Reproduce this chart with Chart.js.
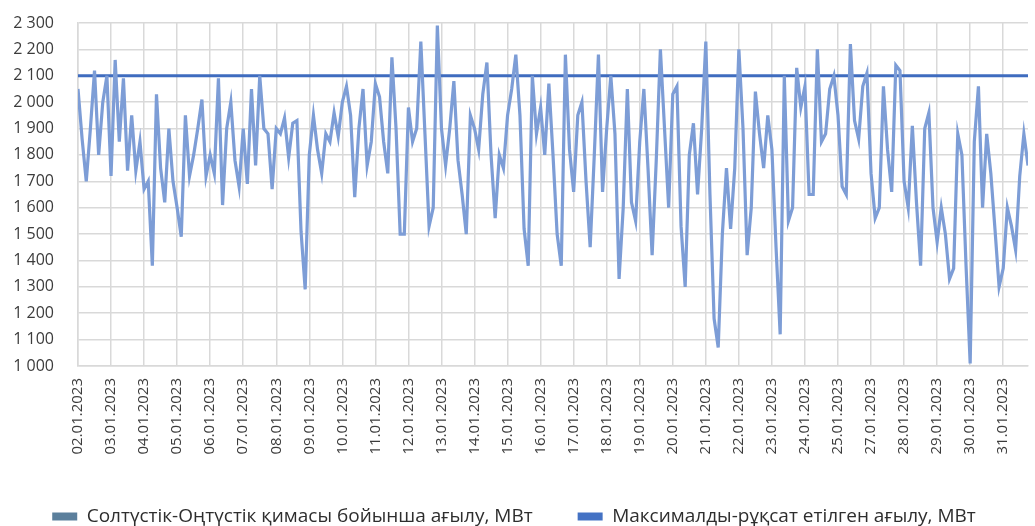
<!DOCTYPE html>
<html>
<head>
<meta charset="utf-8">
<script src="https://cdn.jsdelivr.net/npm/chart.js@4.4.0/dist/chart.umd.min.js"></script>
<style>
  html, body { margin: 0; padding: 0; background: #ffffff; }
  #wrap { width: 1035px; height: 526px; }
</style>
</head>
<body>
<div id="wrap"><canvas id="chart" width="1035" height="526"></canvas></div>
<script>
// -------------------------
// DATA
// -------------------------
const dates = [
  "02.01.2023", "03.01.2023", "04.01.2023", "05.01.2023", "06.01.2023",
  "07.01.2023", "08.01.2023", "09.01.2023", "10.01.2023", "11.01.2023",
  "12.01.2023", "13.01.2023", "14.01.2023", "15.01.2023", "16.01.2023",
  "17.01.2023", "18.01.2023", "19.01.2023", "20.01.2023", "21.01.2023",
  "22.01.2023", "23.01.2023", "24.01.2023", "25.01.2023", "27.01.2023",
  "28.01.2023", "29.01.2023", "30.01.2023", "31.01.2023"
];

// flow, MW, read every 3 hours (8 readings per labelled day)
const flow = [
  2050, 1860, 1700, 1900, 2120, 1800, 2000, 2100,
  1720, 2160, 1850, 2090, 1740, 1950, 1740, 1850,
  1670, 1700, 1380, 2030, 1750, 1620, 1900, 1700,
  1600, 1490, 1950, 1720, 1800, 1900, 2010, 1720,
  1800, 1730, 2090, 1610, 1900, 2000, 1780, 1680,
  1900, 1690, 2050, 1760, 2100, 1900, 1880, 1670,
  1900, 1880, 1940, 1790, 1920, 1930, 1510, 1290,
  1800, 1950, 1820, 1730, 1880, 1850, 1960, 1870,
  2000, 2060, 1950, 1640, 1900, 2050, 1760, 1850,
  2070, 2020, 1850, 1730, 2170, 1900, 1500, 1500,
  1980, 1850, 1900, 2230, 1880, 1530, 1600, 2290,
  1900, 1760, 1900, 2080, 1780, 1650, 1500, 1950,
  1900, 1820, 2030, 2150, 1800, 1560, 1800, 1750,
  1950, 2050, 2180, 1950, 1520, 1380, 2100, 1880,
  1980, 1800, 2070, 1800, 1500, 1380, 2180, 1820,
  1660, 1950, 2000, 1700, 1450, 1800, 2180, 1660,
  1900, 2100, 1880, 1330, 1600, 2050, 1620, 1550,
  1850, 2050, 1750, 1420, 1780, 2200, 1900, 1600,
  2030, 2060, 1530, 1300, 1800, 1920, 1650, 1900,
  2230, 1650, 1180, 1070, 1500, 1750, 1520, 1750,
  2200, 1900, 1420, 1600, 2040, 1880, 1750, 1950,
  1820, 1450, 1120, 2100, 1550, 1600, 2130, 1980,
  2060, 1650, 1650, 2200, 1850, 1880, 2050, 2100,
  1950, 1680, 1650, 2220, 1930, 1860, 2060, 2110,
  1730, 1560, 1600, 2060, 1820, 1660, 2140, 2120,
  1700, 1600, 1910, 1620, 1380, 1900, 1960, 1600,
  1470, 1600, 1500, 1330, 1370, 1880, 1800, 1380,
  1010, 1850, 2060, 1600, 1880, 1730, 1520, 1300,
  1370, 1600, 1530, 1440, 1720, 1880, 1760
];

const maxAllowed = 2100;
const readingsPerDay = 8;

const seriesNames = [
  "Солтүстік-Оңтүстік қимасы бойынша ағылу, МВт",
  "Максималды-рұқсат етілген ағылу, МВт"
];

// -------------------------
// BUILD CHART
// -------------------------
const lastX = (flow.length - 1) / readingsPerDay;
const flowPoints = flow.map((v, i) => ({ x: i / readingsPerDay, y: v }));
const maxPoints = [{ x: 0, y: maxAllowed }, { x: lastX, y: maxAllowed }];

const FONT = "'Open Sans', 'DejaVu Sans', sans-serif";
const GRID = "#d9d9d9";

new Chart(document.getElementById("chart"), {
  type: "line",
  data: {
    datasets: [
      {
        label: seriesNames[0],
        data: flowPoints,
        borderColor: "#7d9dd6",
        backgroundColor: "#5b7f9c",
        borderWidth: 3.2,
        pointRadius: 0,
        tension: 0
      },
      {
        label: seriesNames[1],
        data: maxPoints,
        borderColor: "#3f6cbf",
        backgroundColor: "#4472c4",
        borderWidth: 3,
        pointRadius: 0
      }
    ]
  },
  options: {
    responsive: false,
    animation: false,
    devicePixelRatio: 1,
    layout: { padding: { top: 23, right: 7, left: 0, bottom: -10 } },
    plugins: {
      tooltip: { enabled: false },
      legend: {
        position: "bottom",
        labels: {
          boxWidth: 25,
          boxHeight: 8,
          padding: 45,
          color: "#2e2e2e",
          font: { family: FONT, size: 19 },
          generateLabels(chart) {
            const items = Chart.defaults.plugins.legend.labels.generateLabels(chart);
            items.forEach(it => { it.lineWidth = 0; });
            return items;
          }
        }
      }
    },
    scales: {
      x: {
        type: "linear",
        min: 0,
        max: lastX,
        afterFit(scale) { scale.height = 96; },
        grid: { color: GRID, lineWidth: 1.5, drawTicks: false },
        border: { color: GRID, width: 1.5 },
        ticks: {
          stepSize: 1,
          autoSkip: false,
          includeBounds: false,
          minRotation: 90,
          maxRotation: 90,
          padding: 12,
          color: "#3c3c3c",
          font: { family: FONT, size: 15 },
          callback: v => dates[v] || ""
        }
      },
      y: {
        min: 1000,
        max: 2300,
        afterFit(scale) {
          scale.width = 78;
          scale.paddingTop = 4;
          scale.paddingBottom = 4;
        },
        grid: { color: GRID, lineWidth: 1.5, drawTicks: false },
        border: { color: GRID, width: 1.5 },
        ticks: {
          stepSize: 100,
          padding: 24,
          color: "#3c3c3c",
          font: { family: FONT, size: 16 },
          callback: v => String(v).replace(/\B(?=(\d{3})+$)/, " ")
        }
      }
    }
  }
});
</script>
</body>
</html>
